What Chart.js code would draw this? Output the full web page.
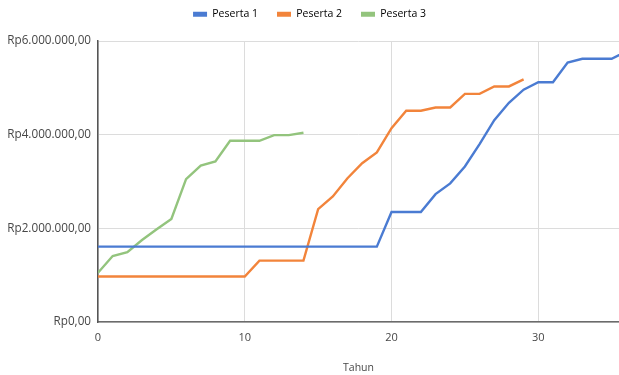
<!DOCTYPE html>
<html>
<head>
<meta charset="utf-8">
<script src="https://cdn.jsdelivr.net/npm/chart.js@4/dist/chart.umd.min.js"></script>
<style>
  html, body { margin: 0; padding: 0; background: #ffffff; }
  #wrap { width: 619px; height: 375px; }
</style>
</head>
<body>
<div id="wrap"><canvas id="chart" width="619" height="375"></canvas></div>
<script>
// Tahun (x) and saldo (y, rupiah) for each peserta
const tahunPeserta1 = [0,1,2,3,4,5,6,7,8,9,10,11,12,13,14,15,16,17,18,19,20,21,22,23,24,25,26,27,28,29,30,31,32,33,34,35,36];
const saldoPeserta1 = [1610000,1610000,1610000,1610000,1610000,1610000,1610000,1610000,1610000,1610000,
                       1610000,1610000,1610000,1610000,1610000,1610000,1610000,1610000,1610000,1610000,
                       2350000,2350000,2350000,2730000,2960000,3320000,3800000,4310000,4680000,4960000,
                       5120000,5120000,5540000,5620000,5620000,5620000,5780000];

const tahunPeserta2 = [0,1,2,3,4,5,6,7,8,9,10,11,12,13,14,15,16,17,18,19,20,21,22,23,24,25,26,27,28,29];
const saldoPeserta2 = [970000,970000,970000,970000,970000,970000,970000,970000,970000,970000,
                       970000,1310000,1310000,1310000,1310000,2410000,2680000,3070000,3390000,3620000,
                       4140000,4510000,4510000,4580000,4580000,4870000,4870000,5030000,5030000,5180000];

const tahunPeserta3 = [0,1,2,3,4,5,6,7,8,9,10,11,12,13,14];
const saldoPeserta3 = [1050000,1410000,1490000,1750000,1980000,2200000,3050000,3340000,3430000,3870000,
                       3870000,3870000,3990000,3990000,4040000];

const seriesNames = ['Peserta 1', 'Peserta 2', 'Peserta 3'];
const seriesColors = ['#4a7bd2', '#f2843b', '#93c47d'];
const xTicks = [0, 10, 20, 30];
const yTicks = [0, 2000000, 4000000, 6000000];

function rupiah(v) {
  const s = Math.round(v).toString().replace(/\B(?=(\d{3})+(?!\d))/g, '.');
  return 'Rp' + s + ',00';
}

function points(xs, ys) {
  return xs.map((x, i) => ({ x: x, y: ys[i] }));
}

const TEXT = '#474747';
const FONT = '"Open Sans", "Noto Sans", sans-serif';

const series = [
  points(tahunPeserta1, saldoPeserta1),
  points(tahunPeserta2, saldoPeserta2),
  points(tahunPeserta3, saldoPeserta3)
];

// keeps the legend strip at a fixed height
const layoutFix = {
  id: 'layoutFix',
  afterInit(chart) {
    const lg = chart.legend;
    const fit = lg.fit;
    lg.fit = function () { fit.call(this); this.height = 51; };
  }
};

new Chart(document.getElementById('chart'), {
  type: 'line',
  data: {
    datasets: series.map((pts, i) => ({
      label: seriesNames[i],
      data: pts,
      borderColor: seriesColors[i],
      backgroundColor: seriesColors[i],
      borderWidth: 2.4,
      pointRadius: 0,
      pointHoverRadius: 0,
      tension: 0,
      fill: false
    }))
  },
  options: {
    responsive: false,
    animation: false,
    layout: { padding: { top: -10, left: 0, right: 0, bottom: 0 } },
    plugins: {
      tooltip: { enabled: false },
      legend: {
        position: 'top',
        align: 'center',
        labels: {
          boxWidth: 14,
          boxHeight: 5,
          padding: 19,
          color: TEXT,
          font: { family: FONT, size: 10.5 },
          generateLabels(chart) {
            return chart.data.datasets.map((d, i) => ({
              text: d.label,
              fillStyle: d.borderColor,
              strokeStyle: d.borderColor,
              lineWidth: 0,
              hidden: false,
              datasetIndex: i
            }));
          }
        }
      }
    },
    scales: {
      x: {
        type: 'linear',
        min: 0,
        max: 35.5,
        afterBuildTicks(scale) { scale.ticks = xTicks.map(v => ({ value: v })); },
        afterFit(scale) { scale.height = 53; },
        grid: { color: '#dcdcdc', lineWidth: 1, drawTicks: false },
        border: { display: true, color: '#6b6b6b', width: 1.5 },
        ticks: { color: TEXT, font: { family: FONT, size: 11 }, padding: 9, maxRotation: 0 },
        title: {
          display: true,
          text: 'Tahun',
          color: TEXT,
          font: { family: FONT, size: 10.5 },
          padding: { top: 0, bottom: 1 }
        }
      },
      y: {
        min: 0,
        max: 6000000,
        afterBuildTicks(scale) { scale.ticks = yTicks.map(v => ({ value: v })); },
        afterFit(scale) { scale.width = 98; },
        grid: { color: '#dcdcdc', lineWidth: 1, drawTicks: false },
        border: { display: true, color: '#555555', width: 1.5 },
        ticks: {
          color: TEXT,
          font: { family: FONT, size: 11.7 },
          padding: 7,
          callback: (v) => rupiah(v)
        }
      }
    }
  },
  plugins: [layoutFix]
});
</script>
</body>
</html>
